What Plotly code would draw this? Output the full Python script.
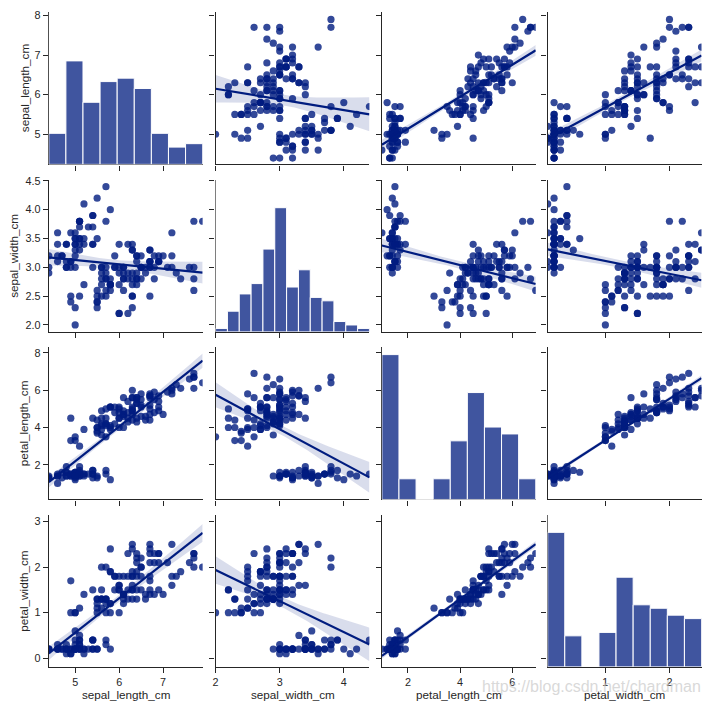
import numpy as np
import plotly.graph_objects as go

sepal_length_cm = [
    5.1, 4.9, 4.7, 4.6, 5.0, 5.4, 4.6, 5.0, 4.4, 4.9, 5.4, 4.8, 4.8, 5.8, 5.7, 5.4, 5.1, 5.7, 5.1, 5.4,
    5.1, 4.6, 5.1, 4.8, 5.0, 5.0, 5.2, 5.2, 4.7, 4.8, 5.4, 5.2, 5.5, 4.9, 5.0, 5.5, 4.9, 4.4, 5.1, 5.0,
    4.4, 5.0, 5.1, 4.8, 5.1, 4.6, 5.3, 5.0,
    7.0, 6.4, 6.9, 5.5, 6.5, 5.7, 6.3, 4.9, 6.6, 5.2, 5.0, 5.9, 6.0, 6.1, 5.6, 6.7, 5.6, 5.8, 6.2, 5.6,
    5.9, 6.1, 6.3, 6.1, 6.4, 6.6, 6.8, 6.7, 6.0, 5.7, 5.5, 5.5, 5.8, 6.0, 5.4, 6.0, 6.7, 6.3, 5.6, 5.5,
    5.5, 6.1, 5.8, 5.0, 5.6, 5.7, 5.7, 6.2, 5.1, 5.7,
    6.3, 5.8, 7.1, 6.3, 6.5, 7.6, 4.9, 7.3, 6.7, 7.2, 6.5, 6.4, 6.8, 5.7, 5.8, 6.4, 6.5, 7.7, 7.7, 6.0,
    6.9, 5.6, 7.7, 6.3, 6.7, 7.2, 6.2, 6.1, 6.4, 7.2, 7.4, 7.9, 6.4, 6.3, 6.1, 7.7, 6.3, 6.4, 6.0, 6.9,
    6.7, 6.9, 5.8, 6.8, 6.7, 6.7, 6.3, 6.5, 6.2, 5.9,
]
sepal_width_cm = [
    3.5, 3.0, 3.2, 3.1, 3.6, 3.9, 3.4, 3.4, 2.9, 3.1, 3.7, 3.4, 3.0, 4.0, 4.4, 3.9, 3.5, 3.8, 3.8, 3.4,
    3.7, 3.6, 3.3, 3.4, 3.0, 3.4, 3.5, 3.4, 3.2, 3.1, 3.4, 4.1, 4.2, 3.1, 3.2, 3.5, 3.6, 3.0, 3.4, 3.5,
    3.2, 3.5, 3.8, 3.0, 3.8, 3.2, 3.7, 3.3,
    3.2, 3.2, 3.1, 2.3, 2.8, 2.8, 3.3, 2.4, 2.9, 2.7, 2.0, 3.0, 2.2, 2.9, 2.9, 3.1, 3.0, 2.7, 2.2, 2.5,
    3.2, 2.8, 2.5, 2.8, 2.9, 3.0, 2.8, 3.0, 2.9, 2.6, 2.4, 2.4, 2.7, 2.7, 3.0, 3.4, 3.1, 2.3, 3.0, 2.5,
    2.6, 3.0, 2.6, 2.3, 2.7, 3.0, 2.9, 2.9, 2.5, 2.8,
    3.3, 2.7, 3.0, 2.9, 3.0, 3.0, 2.5, 2.9, 2.5, 3.6, 3.2, 2.7, 3.0, 2.5, 2.8, 3.2, 3.0, 3.8, 2.6, 2.2,
    3.2, 2.8, 2.8, 2.7, 3.3, 3.2, 2.8, 3.0, 2.8, 3.0, 2.8, 3.8, 2.8, 2.8, 2.6, 3.0, 3.4, 3.1, 3.0, 3.1,
    3.1, 3.1, 2.7, 3.2, 3.3, 3.0, 2.5, 3.0, 3.4, 3.0,
]
petal_length_cm = [
    1.4, 1.4, 1.3, 1.5, 1.4, 1.7, 1.4, 1.5, 1.4, 1.5, 1.5, 1.6, 1.4, 1.2, 1.5, 1.3, 1.4, 1.7, 1.5, 1.7,
    1.5, 1.0, 1.7, 1.9, 1.6, 1.6, 1.5, 1.4, 1.6, 1.6, 1.5, 1.5, 1.4, 1.5, 1.2, 1.3, 1.4, 1.3, 1.5, 1.3,
    1.3, 1.6, 1.9, 1.4, 1.6, 1.4, 1.5, 1.4,
    4.7, 4.5, 4.9, 4.0, 4.6, 4.5, 4.7, 3.3, 4.6, 3.9, 3.5, 4.2, 4.0, 4.7, 3.6, 4.4, 4.5, 4.1, 4.5, 3.9,
    4.8, 4.0, 4.9, 4.7, 4.3, 4.4, 4.8, 5.0, 4.5, 3.5, 3.8, 3.7, 3.9, 5.1, 4.5, 4.5, 4.7, 4.4, 4.1, 4.0,
    4.4, 4.6, 4.0, 3.3, 4.2, 4.2, 4.2, 4.3, 3.0, 4.1,
    6.0, 5.1, 5.9, 5.6, 5.8, 6.6, 4.5, 6.3, 5.8, 6.1, 5.1, 5.3, 5.5, 5.0, 5.1, 5.3, 5.5, 6.7, 6.9, 5.0,
    5.7, 4.9, 6.7, 4.9, 5.7, 6.0, 4.8, 4.9, 5.6, 5.8, 6.1, 6.4, 5.6, 5.1, 5.6, 6.1, 5.6, 5.5, 4.8, 5.4,
    5.6, 5.1, 5.1, 5.9, 5.7, 5.2, 5.0, 5.2, 5.4, 5.1,
]
petal_width_cm = [
    0.2, 0.2, 0.2, 0.2, 0.2, 0.4, 0.3, 0.2, 0.2, 0.1, 0.2, 0.2, 0.1, 0.2, 0.4, 0.4, 0.3, 0.3, 0.3, 0.2,
    0.4, 0.2, 0.5, 0.2, 0.2, 0.4, 0.2, 0.2, 0.2, 0.2, 0.4, 0.1, 0.2, 0.2, 0.2, 0.2, 0.1, 0.2, 0.2, 0.3,
    0.2, 0.6, 0.4, 0.3, 0.2, 0.2, 0.2, 0.2,
    1.4, 1.5, 1.5, 1.3, 1.5, 1.3, 1.6, 1.0, 1.3, 1.4, 1.0, 1.5, 1.0, 1.4, 1.3, 1.4, 1.5, 1.0, 1.5, 1.1,
    1.8, 1.3, 1.5, 1.2, 1.3, 1.4, 1.4, 1.7, 1.5, 1.0, 1.1, 1.0, 1.2, 1.6, 1.5, 1.6, 1.5, 1.3, 1.3, 1.3,
    1.2, 1.4, 1.2, 1.0, 1.3, 1.2, 1.3, 1.3, 1.1, 1.3,
    2.5, 1.9, 2.1, 1.8, 2.2, 2.1, 1.7, 1.8, 1.8, 2.5, 2.0, 1.9, 2.1, 2.0, 2.4, 2.3, 1.8, 2.2, 2.3, 1.5,
    2.3, 2.0, 2.0, 1.8, 2.1, 1.8, 1.8, 1.8, 2.1, 1.6, 1.9, 2.0, 2.2, 1.5, 1.4, 2.3, 2.4, 1.8, 1.8, 2.1,
    2.4, 2.3, 1.9, 2.3, 2.5, 2.3, 1.9, 2.0, 2.3, 1.8,
]

variable_names = ["sepal_length_cm", "sepal_width_cm", "petal_length_cm", "petal_width_cm"]
x_tick_values = [[5, 6, 7], [2, 3, 4], [2, 4, 6], [1, 2]]
y_tick_values = [[5, 6, 7, 8], [2.0, 2.5, 3.0, 3.5, 4.0, 4.5], [2, 4, 6, 8], [0, 1, 2, 3]]
y_tick_labels = [["5", "6", "7", "8"], ["2.0", "2.5", "3.0", "3.5", "4.0", "4.5"],
                 ["2", "4", "6", "8"], ["0", "1", "2", "3"]]
hist_bins = "auto"
watermark = "https://blog.csdn.net/chardman"

# ---------------- layout / style ----------------
W = H = 707
COL_LEFT = [46.0, 213.5, 380.5, 547.0]
COL_W = 154.5
ROW_TOP = [7.3, 176.0, 344.8, 513.4]
ROW_H = 153.2
ROW_RANGES = [[4.24, 8.08], [1.88, 4.52], [0.14, 8.30], [-0.19, 3.15]]
Y_TITLE_X = [21, 11, 21, 21]
INK = "#262626"
NAVY = "#001c7f"
FONT = "Liberation Sans, Arial, sans-serif"


def px_x(p):
    return p / W


def px_y(p):
    return (H - p) / H


columns = [np.array(v, dtype=float) for v in
           (sepal_length_cm, sepal_width_cm, petal_length_cm, petal_width_cm)]
assert len({len(c) for c in columns}) == 1
n_obs = len(columns[0])
x_ranges = [[float(c.min()), float(c.max())] for c in columns]

hists = [np.histogram(c, bins=hist_bins) for c in columns]
hist_top = max(h[0].max() for h in hists) * 1.05

fig = go.Figure()
layout = {}


def ref(prefix, k):
    return prefix if k == 1 else f"{prefix}{k}"


def key(prefix, k):
    return f"{prefix}axis" if k == 1 else f"{prefix}axis{k}"


for r in range(4):
    for c in range(4):
        k = r * 4 + c + 1
        xa, ya = ref("x", k), ref("y", k)
        x_dom = [px_x(COL_LEFT[c]), px_x(COL_LEFT[c] + COL_W)]
        y_dom = [px_y(ROW_TOP[r] + ROW_H), px_y(ROW_TOP[r])]
        if r == c:
            counts, edges = hists[c]
            hk = 17 + r
            # invisible anchor trace so the cell's own (spine/tick) axes are drawn
            fig.add_trace(go.Scatter(
                x=[sum(x_ranges[c]) / 2], y=[sum(ROW_RANGES[r]) / 2], mode="markers",
                marker=dict(opacity=0, size=1), xaxis=xa, yaxis=ya,
                showlegend=False, hoverinfo="skip"))
            fig.add_trace(go.Bar(
                x=(edges[:-1] + edges[1:]) / 2, y=counts, width=np.diff(edges),
                marker=dict(color="rgba(0,28,127,0.75)", line=dict(color="white", width=1)),
                xaxis=f"x{hk}", yaxis=f"y{hk}", showlegend=False, hoverinfo="skip"))
            layout[f"xaxis{hk}"] = dict(domain=x_dom, anchor=f"y{hk}", range=x_ranges[c],
                                        visible=False, showgrid=False, zeroline=False,
                                        fixedrange=True)
            layout[f"yaxis{hk}"] = dict(domain=y_dom, anchor=f"x{hk}", range=[0, hist_top],
                                        visible=False, showgrid=False, zeroline=False,
                                        fixedrange=True)
        else:
            x, y = columns[c], columns[r]
            slope, icpt = np.polyfit(x, y, 1)
            grid = np.linspace(x_ranges[c][0], x_ranges[c][1], 120)
            fit = icpt + slope * grid
            resid = y - (icpt + slope * x)
            s = np.sqrt((resid ** 2).sum() / (n_obs - 2))
            xm = x.mean()
            se = s * np.sqrt(1.0 / n_obs + (grid - xm) ** 2 / ((x - xm) ** 2).sum())
            upper, lower = fit + 1.976 * se, fit - 1.976 * se
            fig.add_trace(go.Scatter(
                x=x, y=y, mode="markers", xaxis=xa, yaxis=ya, showlegend=False,
                marker=dict(color=NAVY, size=7.2, opacity=0.8, line=dict(width=0)),
                hoverinfo="skip"))
            fig.add_trace(go.Scatter(
                x=np.concatenate([grid, grid[::-1]]), y=np.concatenate([upper, lower[::-1]]),
                mode="lines", fill="toself", fillcolor="rgba(0,28,127,0.15)",
                line=dict(width=0), xaxis=xa, yaxis=ya, showlegend=False, hoverinfo="skip"))
            fig.add_trace(go.Scatter(
                x=grid, y=fit, mode="lines", line=dict(color=NAVY, width=2.2),
                xaxis=xa, yaxis=ya, showlegend=False, hoverinfo="skip"))

        common = dict(showgrid=False, zeroline=False, showline=True, linecolor=INK,
                      linewidth=1.4, ticks="outside", ticklen=5, tickwidth=1.3,
                      tickcolor=INK, tickfont=dict(family=FONT, size=10.8, color=INK),
                      fixedrange=True)
        layout[key("x", k)] = dict(
            common, domain=x_dom, anchor=ya,
            range=x_ranges[c], tickmode="array", tickvals=x_tick_values[c],
            showticklabels=(r == 3))
        layout[key("y", k)] = dict(
            common, domain=y_dom, anchor=xa,
            range=ROW_RANGES[r], tickmode="array", tickvals=y_tick_values[r],
            ticktext=y_tick_labels[r], showticklabels=(c == 0))

annotations = []
for i, name in enumerate(variable_names):
    annotations.append(dict(
        text=name, xref="paper", yref="paper", showarrow=False,
        x=px_x(COL_LEFT[i] + COL_W / 2), y=px_y(694), xanchor="center", yanchor="middle",
        font=dict(family=FONT, size=11.7, color=INK)))
    annotations.append(dict(
        text=name, xref="paper", yref="paper", showarrow=False, textangle=-90,
        x=px_x(Y_TITLE_X[i]), y=px_y(ROW_TOP[i] + ROW_H / 2), xanchor="center",
        yanchor="middle", font=dict(family=FONT, size=11.7, color=INK)))
annotations.append(dict(
    text=watermark, xref="paper", yref="paper", showarrow=False,
    x=px_x(591), y=px_y(686), xanchor="center", yanchor="middle",
    font=dict(family=FONT, size=16, color="rgba(200,200,200,0.7)")))

fig.update_layout(
    width=W, height=H, margin=dict(l=0, r=0, t=0, b=0),
    paper_bgcolor="white", plot_bgcolor="white", showlegend=False,
    annotations=annotations, barmode="overlay", **layout)

# the page's default 8 px body margin would shift the fixed-size figure
fig.write_html("out.html", config={"displayModeBar": False},
               post_script="document.body.style.margin='0';document.body.style.overflow='hidden';")
